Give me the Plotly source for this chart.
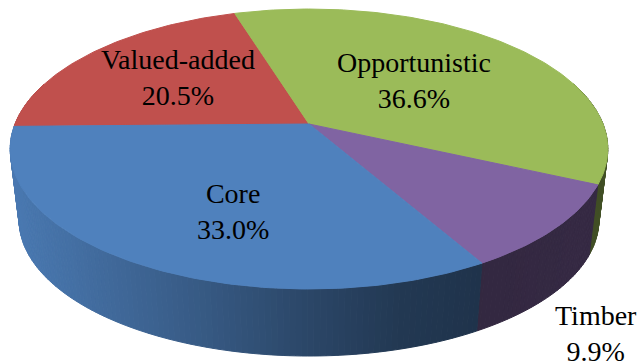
import math
import plotly.graph_objects as go

# ---- data ----
categories = ["Valued-added", "Opportunistic", "Timber", "Core"]
shares = [20.5, 36.6, 9.9, 33.0]
face_colors = ["#c0504d", "#9bbb59", "#8064a2", "#4f81bd"]
# wall shading: (screen x, rgb multiplier)
shade_x = [0, 60, 200, 300, 400, 480, 600, 643]
shade_k = [0.95, 0.88, 0.70, 0.56, 0.44, 0.40, 0.42, 0.50]
label_pos = {"Valued-added": (178, 77), "Opportunistic": (414, 80), "Timber": (596, 333), "Core": (233, 211)}

# ---- projection of a tilted disc ----
CX, CY = 309, 124
K = 0.1786
A, B = 294, 135.5
BOTTOM_SCALE, BOTTOM_DY = 0.97, 72
START_DEG = 181.0


def project(deg, scale=1.0, dy=0.0):
    t = math.radians(deg)
    w = 1 + K * math.sin(t)
    return (CX + scale * A * math.cos(t) / w, CY + dy - scale * B * math.sin(t) / w)


def shade(hexcol, x):
    for i in range(len(shade_x) - 1):
        if shade_x[i] <= x <= shade_x[i + 1]:
            f = (x - shade_x[i]) / (shade_x[i + 1] - shade_x[i])
            k = shade_k[i] + f * (shade_k[i + 1] - shade_k[i])
            break
    else:
        k = shade_k[-1]
    r, g, b = (int(hexcol[j:j + 2], 16) for j in (1, 3, 5))
    return f"rgb({int(r*k)},{int(g*k)},{int(b*k)})"


def poly(xs, ys, color):
    return go.Scatter(x=xs, y=ys, mode="lines", fill="toself", fillcolor=color,
                      line=dict(color=color, width=1), hoverinfo="skip", showlegend=False)


# slice angle ranges, clockwise from the left edge
total = sum(shares)
ranges = []
a = START_DEG
for s in shares:
    b = a - 360.0 * s / total
    ranges.append((a, b))
    a = b

fig = go.Figure()

# side wall strips
STEP = 1.0
for (a0, a1), col in zip(ranges, face_colors):
    d = a0
    while d > a1:
        e = max(d - STEP, a1)
        sd, se = math.sin(math.radians(d)), math.sin(math.radians(e))
        if sd < 0.3 or se < 0.3:
            p1, p2 = project(d), project(e)
            p3, p4 = project(e, BOTTOM_SCALE, BOTTOM_DY), project(d, BOTTOM_SCALE, BOTTOM_DY)
            xs = [p1[0], p2[0], p3[0], p4[0], p1[0]]
            ys = [p1[1], p2[1], p3[1], p4[1], p1[1]]
            fig.add_trace(poly(xs, ys, shade(col, (p1[0] + p2[0]) / 2)))
        d = e

# top faces
for (a0, a1), col in zip(ranges, face_colors):
    n = max(2, int(abs(a0 - a1)))
    pts = [project(a0 + (a1 - a0) * i / n) for i in range(n + 1)]
    xs = [CX] + [p[0] for p in pts] + [CX]
    ys = [CY] + [p[1] for p in pts] + [CY]
    fig.add_trace(poly(xs, ys, col))

for name, val in zip(categories, shares):
    x, y = label_pos[name]
    fig.add_annotation(x=x, y=y, xref="x", yref="y", text=f"{name}<br>{val:.1f}%", showarrow=False,
                       font=dict(family="Liberation Serif", size=28, color="#000000"),
                       align="center", xanchor="center", yanchor="middle")

fig.update_layout(width=643, height=361, margin=dict(l=0, r=0, t=0, b=0),
                  paper_bgcolor="white", plot_bgcolor="white", showlegend=False,
                  xaxis=dict(range=[0, 643], visible=False, fixedrange=True),
                  yaxis=dict(range=[361, 0], visible=False, fixedrange=True))
fig.write_html("out.html", config=dict(displayModeBar=False),
               post_script="document.body.style.margin='0';document.documentElement.style.overflow='hidden';")
